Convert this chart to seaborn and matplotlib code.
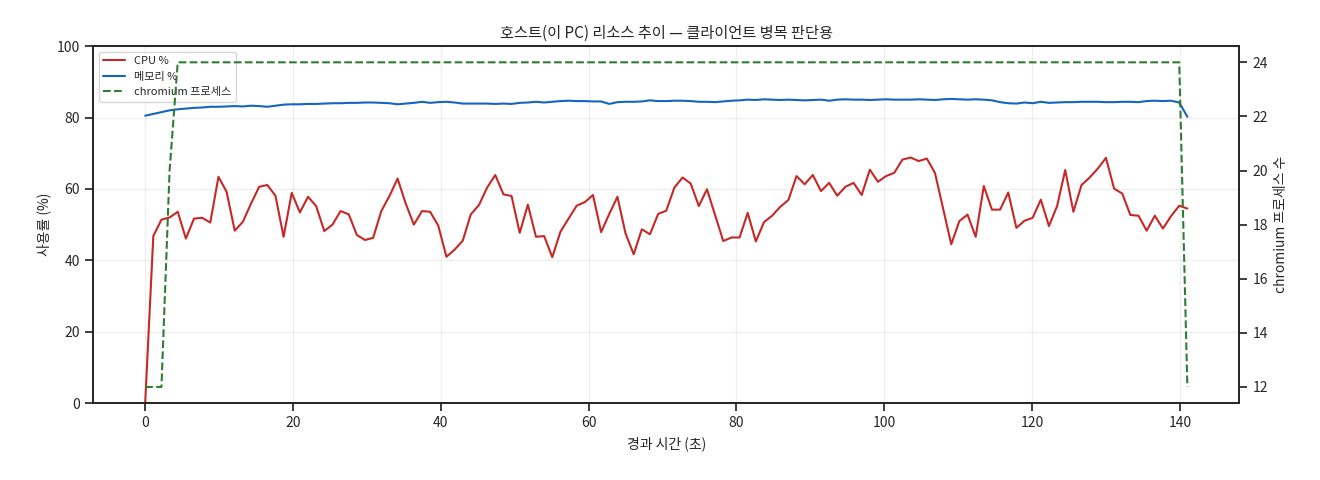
import numpy as np
import pandas as pd
import matplotlib
matplotlib.use("Agg")
import matplotlib.pyplot as plt
import seaborn as sns

cpu = [0, 46.8,51.4,52,53.6,46.1,51.7,51.9,50.6,63.4,59.2,
       48.3,50.8,55.9,60.6,61.1,58.1,46.6,58.9,53.4,57.8,
       55.2,48.2,50,53.8,52.9,47.1,45.7,46.3,53.8,58,
       62.9,55.9,50,53.8,53.6,49.7,41,43,45.5,52.9,
       55.5,60.4,63.9,58.5,58,
       47.7,55.6,46.6,46.8,40.9,48,51.7,55.3,56.3,58.3,
       47.9,53,57.8,47.5,41.7,48.7,47.3,53,53.9,60.4,
       63.2,61.5,55.2,59.9,52.7,45.4,46.4,46.4,53.3,45.3,
       50.7,52.5,55,56.9,63.6,61.3,63.9,59.4,61.7,58.1,
       60.6,61.7,58.3,65.4,62,
       63.6,64.5,68.2,68.8,67.8,68.5,64.5,54.5,44.5,51,
       52.8,46.6,60.8,54.2,54.2,59,49.1,51.1,51.9,57,
       49.6,55.2,65.3,53.6,61.1,63.2,65.7,68.7,60.1,58.7,
       52.7,52.5,48.3,52.5,48.9,52.4,55.3,54.5]
mem = [80.5,81,81.5,82,82.3,82.5,82.7,82.8,83,83,
       83.1,83.2,83.1,83.3,83.2,83.0,83.3,83.6,83.7,83.7,
       83.8,83.8,83.9,84.0,84.0,84.1,84.1,84.2,84.2,84.1,
       84.0,83.7,83.9,84.1,84.4,84.1,84.3,84.4,84.2,83.9,
       83.9,83.9,83.9,83.8,83.9,83.8,84.1,84.2,84.4,84.2,
       84.4,84.6,84.7,84.6,84.6,84.5,84.5,83.8,84.3,84.4,
       84.4,84.5,84.8,84.6,84.6,84.7,84.7,84.6,84.4,84.4,
       84.3,84.5,84.7,84.8,85.0,84.9,85.1,85.0,84.9,85.0,
       84.9,84.8,84.9,85.0,84.7,85.0,85.1,85.0,85.0,84.9,
       85.0,85.1,85.0,85.0,85.0,85.1,85.0,84.9,85.1,85.2,
       85.1,85.0,85.1,85.0,84.8,84.3,84.0,83.9,84.2,84.0,
       84.4,84.1,84.2,84.3,84.3,84.4,84.4,84.4,84.3,84.3,
       84.4,84.4,84.3,84.6,84.7,84.6,84.7,84.2,80.2]
chromium = [12, 12, 12, 20] + [24] * 124 + [12]
t = np.linspace(0, 141, len(cpu))

df = pd.DataFrame({"t": t, "cpu": cpu, "mem": mem, "chromium": chromium})

sns.set_theme(style="ticks")
plt.rcParams['font.family'] = ['Noto Sans CJK KR', 'DejaVu Sans']

fig = plt.figure(figsize=(13.2, 4.8), dpi=100)
ax = fig.add_axes([0.0705, 0.16, 0.8685, 0.744])
sns.lineplot(data=df, x="t", y="cpu", ax=ax, color="#c62828", lw=1.5, label="CPU %")
sns.lineplot(data=df, x="t", y="mem", ax=ax, color="#1565c0", lw=1.5, label="메모리 %")
ax2 = ax.twinx()
sns.lineplot(data=df, x="t", y="chromium", ax=ax2, color="#2e7d32", lw=1.5,
             linestyle="--", label="chromium 프로세스")
ax.set_ylim(0, 100)
ax.grid(True, alpha=0.3)
ax.set_xlabel("경과 시간 (초)", fontsize=10)
ax.set_ylabel("사용률 (%)", fontsize=10)
ax2.set_ylabel("chromium 프로세스 수", fontsize=10)
ax.set_title("호스트(이 PC) 리소스 추이 — 클라이언트 병목 판단용", fontsize=11)
ax.tick_params(labelsize=10)
ax2.tick_params(labelsize=10)
h1, l1 = ax.get_legend_handles_labels()
h2, l2 = ax2.get_legend_handles_labels()
ax2.get_legend().remove()
ax.legend(h1 + h2, l1 + l2, loc="upper left", fontsize=8)
fig.savefig("out.png", dpi=100)
